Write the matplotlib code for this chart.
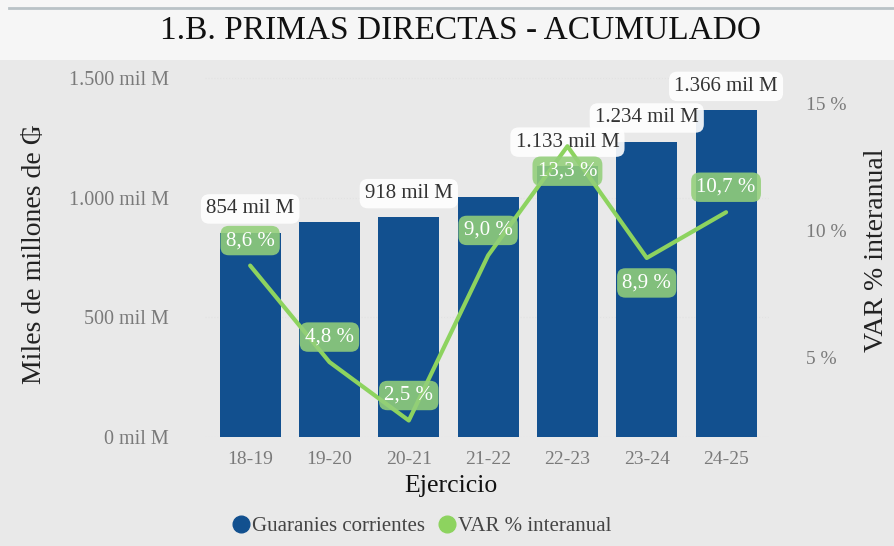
import matplotlib.pyplot as plt
from matplotlib.lines import Line2D
from matplotlib.patches import Rectangle
import numpy as np

ejercicios = ["18-19", "19-20", "20-21", "21-22", "22-23", "23-24", "24-25"]
primas = [854, 898, 918, 1002, 1133, 1234, 1366]
var_pct = [8.6, 4.8, 2.5, 9.0, 13.3, 8.9, 10.7]
etiquetas_barras = ["854 mil M", None, "918 mil M", None, "1.133 mil M", "1.234 mil M", "1.366 mil M"]
etiquetas_var = ["8,6 %", "4,8 %", "2,5 %", "9,0 %", "13,3 %", "8,9 %", "10,7 %"]
var_abajo = [False, False, False, False, True, True, False]

azul = "#12508f"
verde = "#8dd35f"
verde_caja = "#93cf7a"
gris_tick = "#7a7a7a"

plt.rcParams['font.family'] = ['Liberation Serif', 'DejaVu Serif']

fig = plt.figure(figsize=(8.95, 5.46), dpi=100)
fig.patch.set_facecolor("#e9e9e9")
# franja del titulo
fig.patches.append(Rectangle((0, 0.89), 1, 0.11, transform=fig.transFigure,
                             facecolor="#f6f6f6", edgecolor="none", zorder=0))
fig.add_artist(Line2D([0.01, 1], [0.985, 0.985], color="#b9c2c6", lw=2))
fig.text(0.515, 1 - 31 / 546, "1.B. PRIMAS DIRECTAS - ACUMULADO",
         ha="center", va="center", fontsize=24, color="#111111")

ax = fig.add_axes([0.229, 0.1996, 0.631, 0.6722])
ax.set_facecolor("none")
x = np.arange(len(ejercicios))
ax.bar(x, primas, width=0.77, color=azul, zorder=2)
ax.set_xlim(-0.57, 6.55)
ax.set_ylim(0, 1533)
ax.set_yticks([0, 500, 1000, 1500])
ax.set_yticklabels(["0 mil M", "500 mil M", "1.000 mil M", "1.500 mil M"])
ax.set_xticks(x)
ax.set_xticklabels(ejercicios)
ax.tick_params(axis="y", length=0, pad=26, labelsize=14.5, labelcolor=gris_tick)
ax.tick_params(axis="x", length=0, pad=10, labelsize=14, labelcolor=gris_tick)
for s in ax.spines.values():
    s.set_visible(False)
ax.grid(axis="y", color="#e2e2e2", lw=0.8, ls=":", zorder=0)

for xi, v, t in zip(x, primas, etiquetas_barras):
    if t is None:
        continue
    ax.annotate(t, (xi, v), xytext=(0, 17), textcoords="offset points",
                ha="center", va="center", fontsize=15, color="#333333", zorder=5,
                bbox=dict(boxstyle="round,pad=0.25,rounding_size=0.4", fc="white",
                          ec="none", alpha=0.9))

ax2 = ax.twinx()
ax2.set_ylim(1.85, 16.3)
ax2.plot(x, var_pct, color=verde, lw=3, zorder=3, solid_capstyle="round")
ax2.set_yticks([5, 10, 15])
ax2.set_yticklabels(["5 %", "10 %", "15 %"])
ax2.tick_params(axis="y", length=0, pad=26, labelsize=14, labelcolor=gris_tick)
for s in ax2.spines.values():
    s.set_visible(False)

for xi, v, t, abajo in zip(x, var_pct, etiquetas_var, var_abajo):
    dy = -18 if abajo else 18
    ax2.annotate(t, (xi, v), xytext=(0, dy), textcoords="offset points",
                 ha="center", va="center", fontsize=15, color="white", zorder=6,
                 bbox=dict(boxstyle="round,pad=0.25,rounding_size=0.4", fc=verde_caja,
                           ec="none", alpha=0.88))

fig.text(0.038, 0.535, "Miles de millones de ₲", rotation=90,
         ha="center", va="center", fontsize=20, color="#222222")
fig.text(0.979, 0.542, "VAR % interanual", rotation=90,
         ha="center", va="center", fontsize=20, color="#222222")
fig.text(451 / 895, 1 - 486 / 546, "Ejercicio",
         ha="center", va="center", fontsize=18.5, color="#111111")

handles = [Line2D([], [], ls="none", marker="o", ms=12, color=azul),
           Line2D([], [], ls="none", marker="o", ms=12, color=verde)]
fig.legend(handles, ["Guaranies corrientes", "VAR % interanual"],
           loc="center", bbox_to_anchor=(421 / 895, 1 - 526 / 546), ncol=2,
           frameon=False, fontsize=15, handletextpad=0.0, columnspacing=0.6,
           handlelength=1.0, labelcolor="#444444")

fig.savefig("out.png", dpi=100, facecolor=fig.get_facecolor())
